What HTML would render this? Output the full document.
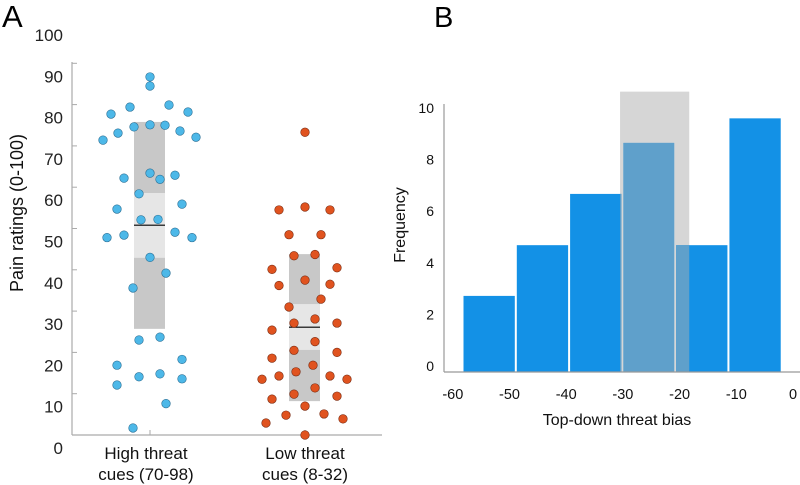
<!DOCTYPE html>
<html><head><meta charset="utf-8"><style>
body{margin:0;background:#fff;}
svg{display:block;font-family:"Liberation Sans",Arial,sans-serif;}
</style></head><body>
<svg id="c" width="800" height="485" viewBox="0 0 800 485" xmlns="http://www.w3.org/2000/svg">
<text x="2" y="27" font-size="31">A</text>
<text x="434" y="27" font-size="29">B</text>
<g id="pa"></g>
<g id="pb"></g>
</svg>
<script>
const NS="http://www.w3.org/2000/svg";
const aTicks=[0,10,20,30,40,50,60,70,80,90,100];
const highX=[150,150,111,130,169,188,118,134,150,165,180,103,196,124,150,160,175,139,117,182,141,158,124,107,175,192,150,166,133,139,160,117,182,117,139,160,182,166,133];
const highVals=[86.7,84.5,77.7,79.4,79.9,78.2,73.1,74.6,75.1,75,73.6,71.4,72.1,62.2,63.4,61.9,62.9,58.4,54.7,55.9,52.1,52.2,48.4,47.8,49.1,47.8,43,39.2,35.6,23,23.7,16.9,18.3,12.1,14.1,14.8,13.6,7.6,1.7];
const lowX=[305,279,305,330,289,321,294,315,272,337,279,305,330,321,289,294,315,337,272,315,294,337,272,313,296,279,262,330,347,315,294,272,337,305,286,324,266,343,305];
const lowVals=[73.3,54.5,55.2,54.5,48.5,48.5,43.4,43.7,40.1,40.5,36.2,37.5,36.5,32.9,31,27.1,28.1,27.1,25.4,22.6,20.5,20,18.6,16.9,15.3,14.3,13.5,14.3,13.5,11.4,9.9,8.7,9.4,7,4.8,5.1,2.9,3.9,0];
const highBox=[25.7,42.9,50.8,58.6,75.8];
const lowBox=[8.2,20.6,26.1,31.7,43.8];
const binEdges=[-58.2,-48.8,-39.4,-30.0,-20.7,-11.3,-1.9];
const freqs=[2.85,4.75,6.67,8.58,4.75,9.5];
const shadeRange=[-30.5,-18.3];
const shadeTop=10.5;
const bTicksY=[0,2,4,6,8,10];
const bTicksX=[-60,-50,-40,-30,-20,-10,0];

function el(p,t,a){const e=document.createElementNS(NS,t);for(const k in a)e.setAttribute(k,a[k]);p.appendChild(e);return e;}
const yA=v=>435-v*4.13;
const pa=document.getElementById('pa');
let e;
e=el(pa,'line',{x1:72,y1:62,x2:72,y2:435,stroke:'#aaa','stroke-width':1.2});

e=el(pa,'line',{x1:72,y1:435,x2:382,y2:435,stroke:'#aaa','stroke-width':1.2});

aTicks.forEach(t=>{
  if(t>0&&t<100){e=el(pa,'line',{x1:72,y1:yA(t),x2:77,y2:yA(t),stroke:'#aaa'});
  }
  e=el(pa,'text',{x:63,y:yA(t)+19,'font-size':17,'text-anchor':'end',fill:'#222'});e.textContent=t;
  
});
[150,305].forEach(x=>{e=el(pa,'line',{x1:x,y1:430,x2:x,y2:435,stroke:'#aaa'});
});
e=el(pa,'text',{x:0,y:0,'font-size':18,'text-anchor':'middle',fill:'#111',transform:'translate(23,213) rotate(-90)'});e.textContent='Pain ratings (0-100)';

[['High threat','cues (70-98)',146],['Low threat','cues (8-32)',305]].forEach(([a,b,x],i)=>{
  e=el(pa,'text',{x:x,y:459,'font-size':17,'text-anchor':'middle',fill:'#111'});e.textContent=a;
  
  e=el(pa,'text',{x:x,y:480,'font-size':17,'text-anchor':'middle',fill:'#111'});e.textContent=b;
  
});
function box(cx,b,nm){
  e=el(pa,'rect',{x:cx-16,y:yA(b[4]),width:31,height:yA(b[0])-yA(b[4]),fill:'#c8c8c8'});
  
  e=el(pa,'rect',{x:cx-16,y:yA(b[3]),width:31,height:yA(b[1])-yA(b[3]),fill:'#e6e6e6'});
  
  e=el(pa,'line',{x1:cx-16,y1:yA(b[2]),x2:cx+15,y2:yA(b[2]),stroke:'#000','stroke-width':1.2});
  
}
box(150,highBox,'high-threat');box(305,lowBox,'low-threat');
highVals.forEach((v,i)=>{e=el(pa,'circle',{cx:highX[i],cy:yA(v),r:4.3,fill:'#4db8e8',stroke:'#2a6f95','stroke-width':0.6});
});
lowVals.forEach((v,i)=>{e=el(pa,'circle',{cx:lowX[i],cy:yA(v),r:4.3,fill:'#e0531f',stroke:'#7a2a10','stroke-width':0.6});
});

const pb=document.getElementById('pb');
const xB=v=>793+v*5.67, yB=f=>372-f*26.7, yBL=t=>366-t*25.8;
e=el(pb,'rect',{x:xB(shadeRange[0]),y:yB(shadeTop),width:xB(shadeRange[1])-xB(shadeRange[0]),height:yB(0)-yB(shadeTop),fill:'#d6d6d6'});

freqs.forEach((f,i)=>{
  const x0=xB(binEdges[i])+0.5,x1=xB(binEdges[i+1])-1.5;
  e=el(pb,'rect',{x:x0,y:yB(f),width:x1-x0,height:yB(0)-yB(f),fill:'#1391e6'});
  
  const s0=Math.max(x0,xB(shadeRange[0])),s1=Math.min(x1,xB(shadeRange[1]));
  if(s1>s0){e=el(pb,'rect',{x:s0,y:yB(f),width:s1-s0,height:yB(0)-yB(f),fill:'#5fa0cb'});
  }
});
e=el(pb,'line',{x1:444,y1:104,x2:444,y2:372,stroke:'#999','stroke-width':1.2});

e=el(pb,'line',{x1:444,y1:372,x2:800,y2:372,stroke:'#999','stroke-width':1.2});

bTicksY.forEach(t=>{e=el(pb,'text',{x:434,y:yBL(t)+5,'font-size':14,'text-anchor':'end',fill:'#111'});e.textContent=t;
});
bTicksX.forEach(t=>{e=el(pb,'text',{x:xB(t),y:399,'font-size':14.5,'text-anchor':'middle',fill:'#111'});e.textContent=t;
});
e=el(pb,'text',{x:0,y:0,'font-size':16,'text-anchor':'middle',fill:'#111',transform:'translate(405,225) rotate(-90)'});e.textContent='Frequency';

e=el(pb,'text',{x:617,y:425,'font-size':16,'text-anchor':'middle',fill:'#111'});e.textContent='Top-down threat bias';

</script>
</body></html>
